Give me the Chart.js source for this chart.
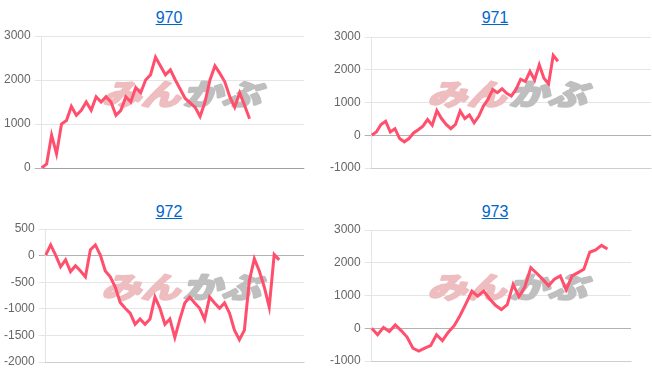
<!DOCTYPE html>
<html><head><meta charset="utf-8">
<script src="https://cdn.jsdelivr.net/npm/chart.js@4.4.1/dist/chart.umd.min.js"></script>
<style>
html,body{margin:0;padding:0;background:#fff;}
body{width:652px;height:382px;position:relative;overflow:hidden;font-family:"Liberation Sans",Arial,sans-serif;}
.cell{position:absolute;width:326px;height:191px;}
.cell canvas{position:absolute;left:0;top:0;}
.cell a{position:absolute;left:0;width:338px;text-align:center;font-size:16px;line-height:18px;color:#0066cc;text-decoration:underline;}
</style></head>
<body>
<div class="cell" style="left:0;top:0"><a href="#" id="t0" style="top:9px"></a><canvas id="c0" width="326" height="191"></canvas></div>
<div class="cell" style="left:326px;top:0"><a href="#" id="t1" style="top:9px"></a><canvas id="c1" width="326" height="191"></canvas></div>
<div class="cell" style="left:0;top:191px"><a href="#" id="t2" style="top:12px"></a><canvas id="c2" width="326" height="191"></canvas></div>
<div class="cell" style="left:326px;top:191px"><a href="#" id="t3" style="top:12px"></a><canvas id="c3" width="326" height="191"></canvas></div>
<script>
const titles = ['970', '971', '972', '973'];

const values970 = [0,90,750,320,1000,1080,1400,1200,1310,1500,1310,1620,1500,1620,1500,1200,1310,1620,1500,1830,1710,2000,2120,2520,2320,2120,2230,2000,1790,1580,1480,1380,1170,1500,2000,2320,2150,1960,1620,1380,1710,1420,1120];
const values971 = [0,100,330,430,100,200,-100,-200,-100,70,170,280,480,310,750,510,330,200,330,740,510,620,380,580,890,1100,1400,1300,1420,1280,1200,1400,1710,1640,1950,1690,2150,1740,1570,2440,2260];
const values972 = [10,200,10,-210,-80,-300,-190,-290,-400,110,200,10,-290,-400,-590,-880,-990,-1080,-1290,-1190,-1290,-1190,-780,-990,-1290,-1190,-1540,-1200,-890,-780,-890,-990,-1200,-780,-890,-990,-890,-1080,-1400,-1580,-1400,-470,-60,-290,-590,-970,20,-80];
const values973 = [0,-200,20,-100,100,-70,-270,-610,-700,-610,-530,-200,-380,-120,80,390,750,1130,980,1130,900,700,570,720,1340,960,1270,1850,1680,1500,1300,1500,1600,1170,1600,1700,1800,2320,2390,2530,2420];

// number of (unlabelled) x categories on each chart
const categoryCounts = [54, 61, 53, 45];

const yMin = [0, -1000, -2000, -1000];
const yMax = [3000, 3000, 500, 3000];
const yStep = [1000, 1000, 500, 1000];

const allValues = [values970, values971, values972, values973];

const paddings = [
  {top:36, bottom:15, left:0, right:22},
  {top:37, bottom:15, left:0, right:1},
  {top:38, bottom:12, left:0, right:22},
  {top:39, bottom:13, left:0, right:21}
];
const wmY = [93, 93, 95, 95];

const watermark = {
  id: 'wm',
  beforeDatasetsDraw(chart, args, opts) {
    const ctx = chart.ctx;
    ctx.save();
    ctx.translate(opts.x, opts.y);
    ctx.transform(1.35, 0, -0.32, 1, 0, 0);
    ctx.font = 'bold 29px "Noto Sans CJK JP"';
    ctx.textBaseline = 'middle';
    ctx.lineJoin = 'round';
    ctx.lineWidth = 2.5;
    ctx.textAlign = 'right';
    ctx.fillStyle = '#eebdc0';
    ctx.strokeStyle = '#eebdc0';
    ctx.strokeText('みん', -1, 1);
    ctx.fillText('みん', -1, 1);
    ctx.textAlign = 'left';
    ctx.fillStyle = '#bfbfbf';
    ctx.strokeStyle = '#bfbfbf';
    ctx.strokeText('かぶ', 1, 1);
    ctx.fillText('かぶ', 1, 1);
    ctx.restore();
  }
};

for (let i = 0; i < 4; i++) {
  document.getElementById('t' + i).textContent = titles[i];
  const labels = [];
  for (let k = 1; k <= categoryCounts[i]; k++) labels.push(String(k));
  new Chart(document.getElementById('c' + i), {
    type: 'line',
    data: {
      labels: labels,
      datasets: [{
        data: allValues[i],
        borderColor: '#ff4f6d',
        backgroundColor: '#ff4f6d',
        borderWidth: 3,
        pointRadius: 0,
        tension: 0,
        fill: false
      }]
    },
    options: {
      responsive: false,
      animation: false,
      events: [],
      layout: { padding: paddings[i] },
      plugins: {
        legend: { display: false },
        title: { display: false },
        tooltip: { enabled: false },
        wm: { x: 185, y: wmY[i] }
      },
      scales: {
        x: {
          grid: { display: false },
          ticks: { display: false },
          border: { display: true, color: 'rgba(0,0,0,0.1)' }
        },
        y: {
          min: yMin[i],
          max: yMax[i],
          ticks: {
            stepSize: yStep[i],
            color: '#666',
            padding: 4,
            font: { family: '"Liberation Sans", Arial, sans-serif', size: 12 },
            callback: v => String(v)
          },
          grid: {
            tickLength: 7,
            color: c => (c.tick && c.tick.value === 0) ? 'rgba(0,0,0,0.3)' : 'rgba(0,0,0,0.1)'
          },
          border: { display: true, color: 'rgba(0,0,0,0.1)' }
        }
      }
    },
    plugins: [watermark]
  });
}
</script>
</body></html>
